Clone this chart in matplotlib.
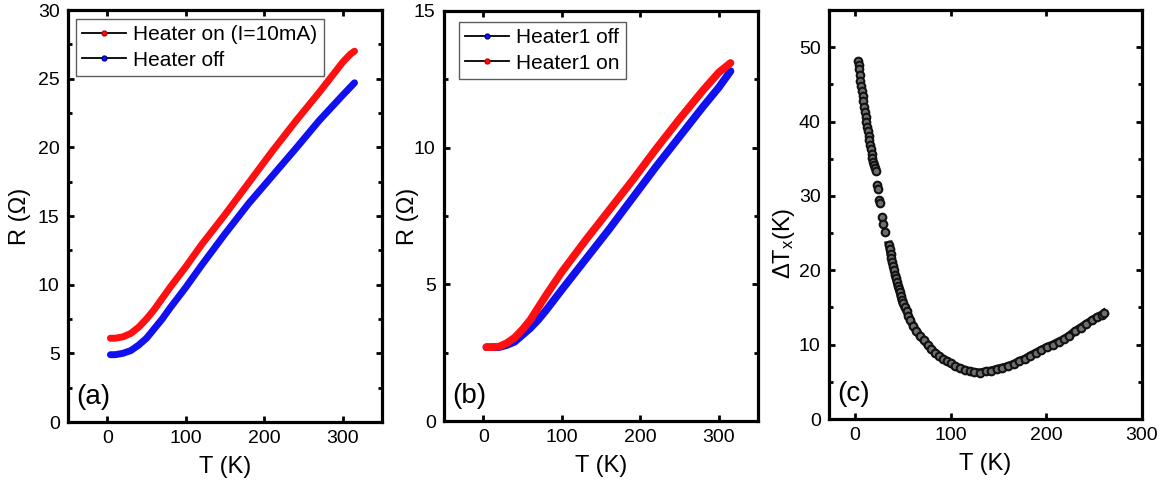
import matplotlib
matplotlib.use("Agg")
import matplotlib.pyplot as plt
from matplotlib.lines import Line2D
from matplotlib.ticker import MultipleLocator

plt.rcParams['font.family'] = ['Liberation Sans', 'DejaVu Sans']
plt.rcParams['mathtext.default'] = 'regular'

# ---------------- data ----------------
# panel (a)
T_a = [4, 10, 20, 30, 40, 50, 60, 70, 80, 100, 120, 150, 180, 210, 240, 270, 300, 310, 315]
R_a_on = [6.1, 6.1, 6.2, 6.45, 6.9, 7.5, 8.2, 9.0, 9.8, 11.3, 12.9, 15.1, 17.4, 19.7, 21.9, 24.0, 26.2, 26.8, 27.0]
R_a_off = [4.9, 4.9, 5.0, 5.2, 5.6, 6.1, 6.8, 7.5, 8.3, 9.8, 11.4, 13.7, 15.9, 17.9, 19.9, 21.95, 23.8, 24.4, 24.7]

# panel (b)
T_b = [4, 10, 20, 30, 40, 50, 60, 70, 80, 100, 130, 160, 190, 220, 250, 280, 300, 315]
R_b_on = [2.7, 2.7, 2.72, 2.85, 3.05, 3.35, 3.7, 4.15, 4.6, 5.45, 6.6, 7.7, 8.8, 9.95, 11.05, 12.1, 12.75, 13.1]
R_b_off = [2.7, 2.7, 2.7, 2.78, 2.9, 3.15, 3.4, 3.7, 4.05, 4.8, 5.9, 7.0, 8.15, 9.3, 10.4, 11.5, 12.2, 12.8]

# panel (c)
T_c = [3.5, 4.0, 4.5, 5.2, 5.8, 6.5, 7.2, 8.0, 8.8, 9.6, 10.4, 11.2, 12.0, 12.8, 13.6,
       14.4, 15.2, 16.0, 16.8, 17.6, 18.4, 19.3, 20.2, 21.0, 22.0,
       23.4, 24.0, 25.3, 25.8, 28.0, 29.0, 31.4,
       35.6, 36.5, 37.3, 38.2, 39.0, 40, 41, 42, 43, 44, 45, 46, 47, 48, 49, 50,
       52, 54, 56, 58, 61, 64, 68, 72, 76, 80, 84, 88, 92, 96, 100, 105, 110, 115,
       120, 125, 131, 137, 142, 148, 154, 160, 166, 172, 178, 183, 189, 195, 201,
       207, 213, 218, 224, 230, 236, 242, 248, 253, 258, 260]
dT_c = [48.2, 47.6, 47.0, 46.2, 45.5, 44.8, 44.1, 43.4, 42.7, 42.0, 41.3, 40.6, 40.0, 39.3, 38.7,
        38.1, 37.5, 36.9, 36.3, 35.7, 35.1, 34.6, 34.1, 33.7, 33.3,
        31.4, 30.9, 29.4, 29.0, 27.2, 26.2, 25.1,
        23.4, 22.8, 22.2, 21.6, 21.1, 20.6, 20.0, 19.4, 18.9, 18.4, 17.9, 17.5, 17.1, 16.5, 16.0, 15.6,
        15.0, 14.5, 13.9, 13.3, 12.5, 11.9, 11.2, 10.6, 10.0, 9.4, 8.9, 8.5, 8.1, 7.8, 7.5, 7.1, 6.8, 6.6,
        6.4, 6.3, 6.25, 6.4, 6.5, 6.7, 6.9, 7.1, 7.4, 7.8, 8.1, 8.5, 8.9, 9.3, 9.7,
        10.0, 10.4, 10.7, 11.2, 11.8, 12.3, 12.8, 13.3, 13.7, 14.0, 14.2]
DENSE_START = 32  # index from which the points form a continuous band

legend_a = ['Heater on (I=10mA)', 'Heater off']
legend_b = ['Heater1 off', 'Heater1 on']

# ---------------- figure ----------------
fig = plt.figure(figsize=(11.68, 4.90), dpi=100)
H = 490.0
W = 1168.0

def add_ax(l, r, t, b):
    return fig.add_axes([l / W, 1 - b / H, (r - l) / W, (b - t) / H])

ax_a = add_ax(68, 382, 10, 422)
ax_b = add_ax(444, 758, 11, 421)
ax_c = add_ax(829, 1142, 10, 419)

TICK_FS = 14
LABEL_FS = 17
LEG_FS = 15
PANEL_FS = 20

def style(ax):
    for s in ax.spines.values():
        s.set_linewidth(2.3)
    ax.tick_params(which='both', direction='in', top=True, right=True,
                   labelsize=TICK_FS, width=2)
    ax.tick_params(which='major', length=4.5, pad=6)
    ax.tick_params(which='minor', length=3)
    ax.tick_params(axis='x', which='minor', bottom=False, top=False)

def legend(ax, handles, labels, x, y):
    leg = ax.legend(handles, labels, loc='upper left', bbox_to_anchor=(x, y), borderaxespad=0,
                    fontsize=LEG_FS, frameon=True, fancybox=False, edgecolor='#333333',
                    handlelength=2.1, handletextpad=0.35, borderpad=0.3, labelspacing=0.3)
    leg.get_frame().set_linewidth(1.0)

RED = '#ff1010'
BLUE = '#1010f0'

# (a)
ax_a.plot(T_a, R_a_on, color=RED, lw=5, solid_capstyle='round', zorder=3)
ax_a.plot(T_a, R_a_off, color=BLUE, lw=5, solid_capstyle='round', zorder=3)
ax_a.set_xlim(-50, 350)
ax_a.set_ylim(0, 30)
ax_a.xaxis.set_major_locator(MultipleLocator(100))
ax_a.yaxis.set_major_locator(MultipleLocator(5))
ax_a.yaxis.set_minor_locator(MultipleLocator(2.5))
style(ax_a)
ax_a.set_xlabel('T (K)', fontsize=LABEL_FS, labelpad=6)
ax_a.set_ylabel('R (Ω)', fontsize=LABEL_FS)
ax_a.yaxis.set_label_coords(-0.118, 0.5)
ax_a.text(0.025, 0.03, '(a)', transform=ax_a.transAxes, fontsize=PANEL_FS, va='bottom', ha='left')
h_a = [Line2D([], [], color='black', lw=1.3, marker='o', ms=3.5, mfc=RED, mec='#c00000'),
       Line2D([], [], color='black', lw=1.3, marker='o', ms=3.5, mfc=BLUE, mec='#0000a0')]
legend(ax_a, h_a, legend_a, 0.025, 0.978)

# (b)
ax_b.plot(T_b, R_b_off, color=BLUE, lw=5.5, solid_capstyle='round', zorder=3)
ax_b.plot(T_b, R_b_on, color=RED, lw=5.5, solid_capstyle='round', zorder=4)
ax_b.set_xlim(-50, 350)
ax_b.set_ylim(0, 15)
ax_b.xaxis.set_major_locator(MultipleLocator(100))
ax_b.yaxis.set_major_locator(MultipleLocator(5))
ax_b.yaxis.set_minor_locator(MultipleLocator(2.5))
style(ax_b)
ax_b.set_xlabel('T (K)', fontsize=LABEL_FS, labelpad=6)
ax_b.set_ylabel('R (Ω)', fontsize=LABEL_FS)
ax_b.yaxis.set_label_coords(-0.08, 0.5)
ax_b.text(0.025, 0.03, '(b)', transform=ax_b.transAxes, fontsize=PANEL_FS, va='bottom', ha='left')
h_b = [Line2D([], [], color='black', lw=1.3, marker='o', ms=3.5, mfc=BLUE, mec='#0000a0'),
       Line2D([], [], color='black', lw=1.3, marker='o', ms=3.5, mfc=RED, mec='#c00000')]
legend(ax_b, h_b, legend_b, 0.048, 0.973)

# (c)
ax_c.plot(T_c[DENSE_START:], dT_c[DENSE_START:], color='#111111', lw=6, zorder=2)
ax_c.plot(T_c, dT_c, ls='none', marker='o', ms=5.5, mfc='#6e6e6e', mec='#111111', mew=1.5, zorder=3)
ax_c.set_xlim(-27, 300)
ax_c.set_ylim(0, 55)
ax_c.xaxis.set_major_locator(MultipleLocator(100))
ax_c.yaxis.set_major_locator(MultipleLocator(10))
ax_c.yaxis.set_minor_locator(MultipleLocator(5))
style(ax_c)
ax_c.set_xlabel('T (K)', fontsize=LABEL_FS, labelpad=6)
ax_c.set_ylabel(r'ΔT$_\mathregular{x}$(K)', fontsize=LABEL_FS)
ax_c.yaxis.set_label_coords(-0.102, 0.43)
ax_c.text(0.025, 0.03, '(c)', transform=ax_c.transAxes, fontsize=PANEL_FS, va='bottom', ha='left')

fig.savefig('out.png', dpi=100)
